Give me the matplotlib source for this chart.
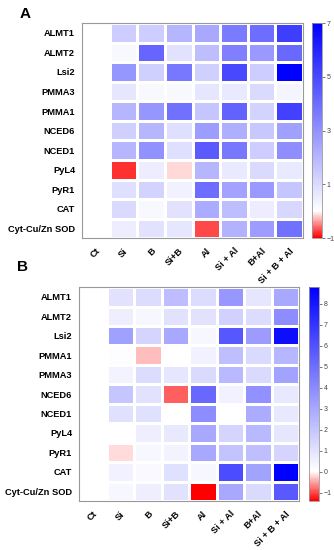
import numpy as np
import matplotlib.pyplot as plt
from matplotlib.colors import LinearSegmentedColormap, Normalize

plt.rcParams['font.family'] = ['Liberation Sans', 'DejaVu Sans']

treatments = ['Ct', 'Si', 'B', 'Si+B', 'Al', 'Si + Al', 'B+Al', 'Si + B + Al']

genes_a = ['ALMT1', 'ALMT2', 'Lsi2', 'PMMA3', 'PMMA1', 'NCED6', 'NCED1',
           'PyL4', 'PyR1', 'CAT', 'Cyt-Cu/Zn SOD']
values_a = [
    [0, 1.4, 1.4, 2.0, 2.4, 3.6, 4.0, 5.3],
    [0, 0.2, 4.2, 0.8, 1.8, 3.5, 2.8, 4.1],
    [0, 2.9, 1.3, 3.7, 1.3, 5.0, 1.4, 7.0],
    [0, 0.7, 0.2, 0.2, 0.7, 0.6, 1.0, 0.3],
    [0, 2.0, 2.9, 3.9, 1.6, 4.3, 1.2, 5.2],
    [0, 1.3, 2.0, 0.9, 2.7, 2.2, 1.5, 2.6],
    [0, 2.0, 3.0, 0.9, 4.5, 3.7, 1.4, 3.1],
    [0, -0.8, 0.5, -0.15, 2.0, 0.6, 1.0, 0.6],
    [0, 0.9, 1.2, 0.4, 4.0, 2.5, 2.8, 1.6],
    [0, 1.0, 0.2, 0.8, 2.3, 1.8, 0.5, 1.1],
    [0, 0.5, 0.8, 0.7, -0.7, 2.1, 2.7, 3.9],
]

genes_b = ['ALMT1', 'ALMT2', 'Lsi2', 'PMMA1', 'PMMA3', 'NCED6', 'NCED1',
           'PyL4', 'PyR1', 'CAT', 'Cyt-Cu/Zn SOD']
values_b = [
    [0, 1.0, 1.2, 2.3, 1.2, 3.6, 0.9, 3.0],
    [0, 0.6, 0.3, 1.0, 1.0, 1.6, 1.2, 3.9],
    [0, 3.3, 1.5, 3.0, 0.3, 5.8, 3.4, 8.3],
    [0, 0.1, -0.35, 0.0, 0.5, 2.2, 1.3, 2.5],
    [0, 0.4, 1.2, 0.9, 1.3, 2.4, 1.3, 3.2],
    [0, 2.0, 1.0, -0.85, 5.2, 0.5, 3.8, 0.8],
    [0, 1.1, 1.1, 0.0, 3.9, 0.0, 2.9, 0.8],
    [0, 0.0, 0.6, 0.8, 3.0, 1.5, 2.4, 0.9],
    [0, -0.2, 0.3, 0.4, 3.0, 2.1, 2.2, 1.5],
    [0, 0.5, 0.2, 1.1, 0.3, 6.2, 3.2, 8.8],
    [0, 0.3, 0.6, 1.0, -1.4, 3.0, 1.3, 5.7],
]

fig = plt.figure(figsize=(3.34, 5.5), dpi=100)


def draw_panel(ax_rect, cb_rect, genes, values, vmin, vmax, ticks, letter, letter_pos):
    ax = fig.add_axes(ax_rect)
    cax = fig.add_axes(cb_rect)
    data = np.array(values)
    # white sits at 0, scale stays linear so the colorbar ticks are evenly spaced
    mid = (0 - vmin) / (vmax - vmin)
    cmap = LinearSegmentedColormap.from_list(
        'rwb', [(0, '#ff0000'), (mid, '#ffffff'), (1, '#0000ff')])
    norm = Normalize(vmin=vmin, vmax=vmax)
    mesh = ax.pcolormesh(data, cmap=cmap, norm=norm, edgecolors='white', linewidth=1)
    ax.set_xlim(0, len(treatments))
    ax.set_ylim(len(genes), 0)
    ax.set_yticks(np.arange(len(genes)) + 0.5)
    ax.set_yticklabels(genes, fontsize=6.7, fontweight='bold')
    ax.set_xticks(np.arange(len(treatments)) + 0.5)
    ax.set_xticklabels(treatments, fontsize=6.7, fontweight='bold', rotation=45,
                       ha='right', rotation_mode='anchor')
    ax.tick_params(length=0, pad=6)
    ax.tick_params(axis='y', pad=5)
    for s in ax.spines.values():
        s.set_color('#999999')
        s.set_linewidth(0.8)

    cb = fig.colorbar(mesh, cax=cax, ticks=ticks)
    cb.ax.tick_params(labelsize=5, length=2, width=0.5, pad=1.5, colors='#444444')
    cb.outline.set_edgecolor('#999999')
    cb.outline.set_linewidth(0.6)
    fig.text(letter_pos[0], letter_pos[1], letter, fontsize=11, fontweight='bold',
             ha='left', va='center')


draw_panel([0.2455, 0.567, 0.662, 0.391], [0.934, 0.567, 0.03, 0.391],
           genes_a, values_a, -1, 7, [-1, 1, 3, 5, 7], 'A', (0.06, 0.975))
draw_panel([0.2365, 0.089, 0.659, 0.389], [0.925, 0.089, 0.03, 0.389],
           genes_b, values_b, -1.4, 8.8, list(range(-1, 9)), 'B', (0.05, 0.515))

fig.savefig('out.png', dpi=100)
